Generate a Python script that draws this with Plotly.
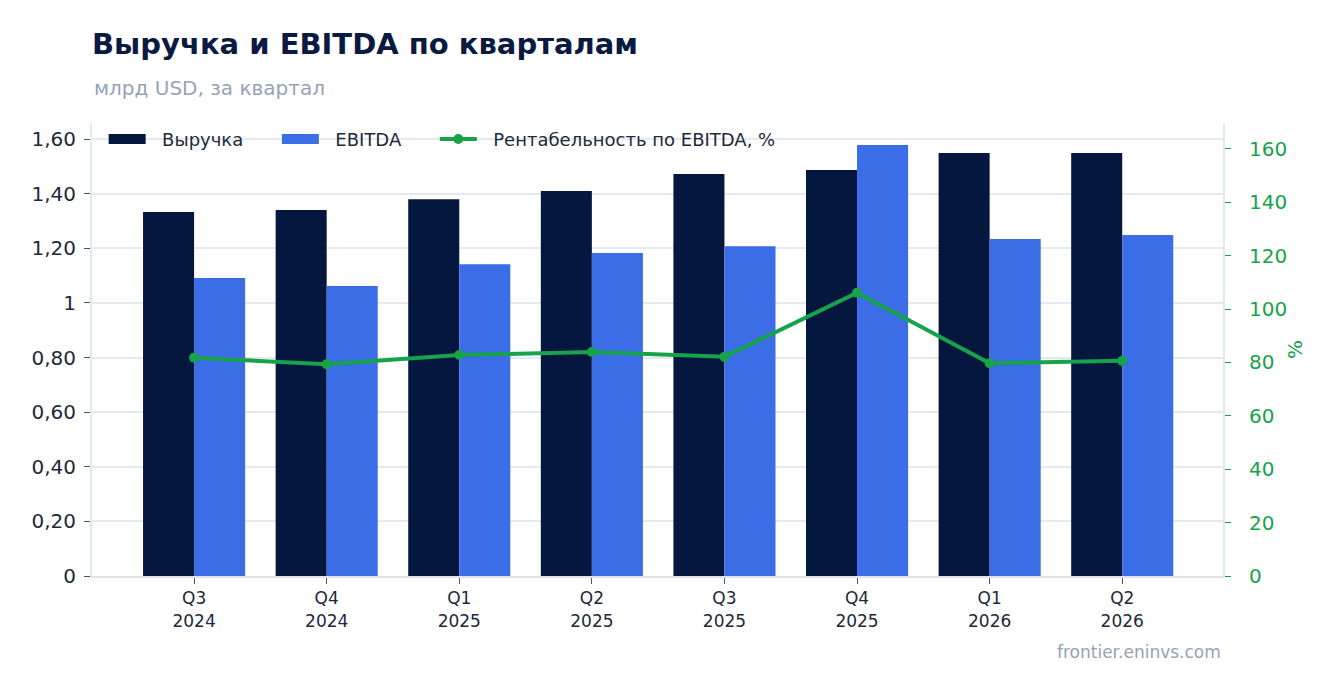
import plotly.graph_objects as go

# quarterly data, bn USD
quarters = ["Q3<br>2024", "Q4<br>2024", "Q1<br>2025", "Q2<br>2025",
            "Q3<br>2025", "Q4<br>2025", "Q1<br>2026", "Q2<br>2026"]
revenue = [1.333, 1.340, 1.380, 1.410, 1.472, 1.487, 1.549, 1.549]
ebitda = [1.091, 1.062, 1.142, 1.183, 1.208, 1.578, 1.234, 1.249]
margin = [81.8, 79.3, 82.8, 83.9, 82.1, 106.1, 79.7, 80.6]

left_ticks = [0, 0.2, 0.4, 0.6, 0.8, 1.0, 1.2, 1.4, 1.6]
left_labels = ["0", "0,20", "0,40", "0,60", "0,80", "1", "1,20", "1,40", "1,60"]

NAVY = "#05163f"
BLUE = "#3b6de6"
GREEN = "#16a34a"
GRID = "#e5e9f0"
FONT = "DejaVu Sans"
NB = "\u00a0"

# plot area height in px (used to place notes above / below it)
PLOT_H = 453

fig = go.Figure()

fig.add_trace(go.Bar(x=quarters, y=revenue, name="Выручка",
                     marker_color=NAVY, marker_line_width=0, showlegend=False))
fig.add_trace(go.Bar(x=quarters, y=ebitda, name="EBITDA",
                     marker_color=BLUE, marker_line_width=0, showlegend=False))
fig.add_trace(go.Scatter(x=quarters, y=margin, name="Рентабельность по EBITDA, %",
                         yaxis="y2", mode="lines+markers",
                         line=dict(color=GREEN, width=4),
                         marker=dict(color=GREEN, size=10), showlegend=False))

# legend entries (wide rectangles for the bars)
fig.add_trace(go.Scatter(x=[None], y=[None], mode="lines",
                         name=NB * 2 + "Выручка" + NB * 5,
                         line=dict(color=NAVY, width=14)))
fig.add_trace(go.Scatter(x=[None], y=[None], mode="lines",
                         name=NB * 2 + "EBITDA" + NB * 5,
                         line=dict(color=BLUE, width=14)))
fig.add_trace(go.Scatter(x=[None], y=[None], mode="lines+markers",
                         name=NB * 2 + "Рентабельность по EBITDA, %",
                         line=dict(color=GREEN, width=4),
                         marker=dict(color=GREEN, size=10)))

fig.update_layout(
    width=1336, height=693,
    margin=dict(l=84, r=121, t=115, b=125),
    paper_bgcolor="white", plot_bgcolor="white",
    font=dict(family=FONT, color="#1e293b", size=17),
    barmode="group", bargap=0.23, bargroupgap=0,
    title=dict(text="<b>Выручка и EBITDA по кварталам</b>",
               x=84 / 1336, xanchor="left", xref="container",
               y=1 - 36 / 693, yanchor="middle", yref="container",
               font=dict(size=29, color="#0a1a40", family=FONT)),
    legend=dict(orientation="h", x=0.0103, y=1.005, xanchor="left", yanchor="top",
                bgcolor="rgba(0,0,0,0)", font=dict(size=18, color="#1e293b"),
                itemwidth=37),
    xaxis=dict(range=[-0.77, 7.76], showgrid=False, showline=True,
               linecolor="#dfe3ec", linewidth=2,
               ticks="outside", ticklen=6, tickcolor="#475569",
               tickfont=dict(size=17, color="#1e293b")),
    yaxis=dict(range=[0, 1.659], tickvals=left_ticks, ticktext=left_labels,
               showgrid=True, gridcolor=GRID, gridwidth=2,
               showline=True, linecolor="#e2e8f0", linewidth=2,
               ticks="outside", ticklen=6, tickcolor="#475569",
               ticklabelstandoff=4,
               tickfont=dict(size=20, color="#1e293b"), zeroline=False),
    yaxis2=dict(range=[0, 169.7], dtick=20, overlaying="y", side="right",
                showgrid=False, showline=True, linecolor="#e2e8f0", linewidth=2,
                ticks="outside", ticklen=6, tickcolor=GREEN,
                ticklabelstandoff=14,
                tickfont=dict(size=20, color=GREEN), zeroline=False,
                title=dict(text="%", font=dict(size=20, color=GREEN), standoff=2)),
    annotations=[
        dict(text="млрд USD, за квартал", xref="paper", yref="paper",
             x=0, y=1 + (123 - 88) / PLOT_H, xanchor="left", yanchor="middle",
             showarrow=False, font=dict(size=20, color="#94a3b8")),
        dict(text="frontier.eninvs.com", xref="paper", yref="paper",
             x=1, y=-(652 - 576) / PLOT_H, xanchor="right", yanchor="middle",
             showarrow=False, font=dict(size=17, color="#94a3b8")),
    ],
)

fig.write_html("out.html")
